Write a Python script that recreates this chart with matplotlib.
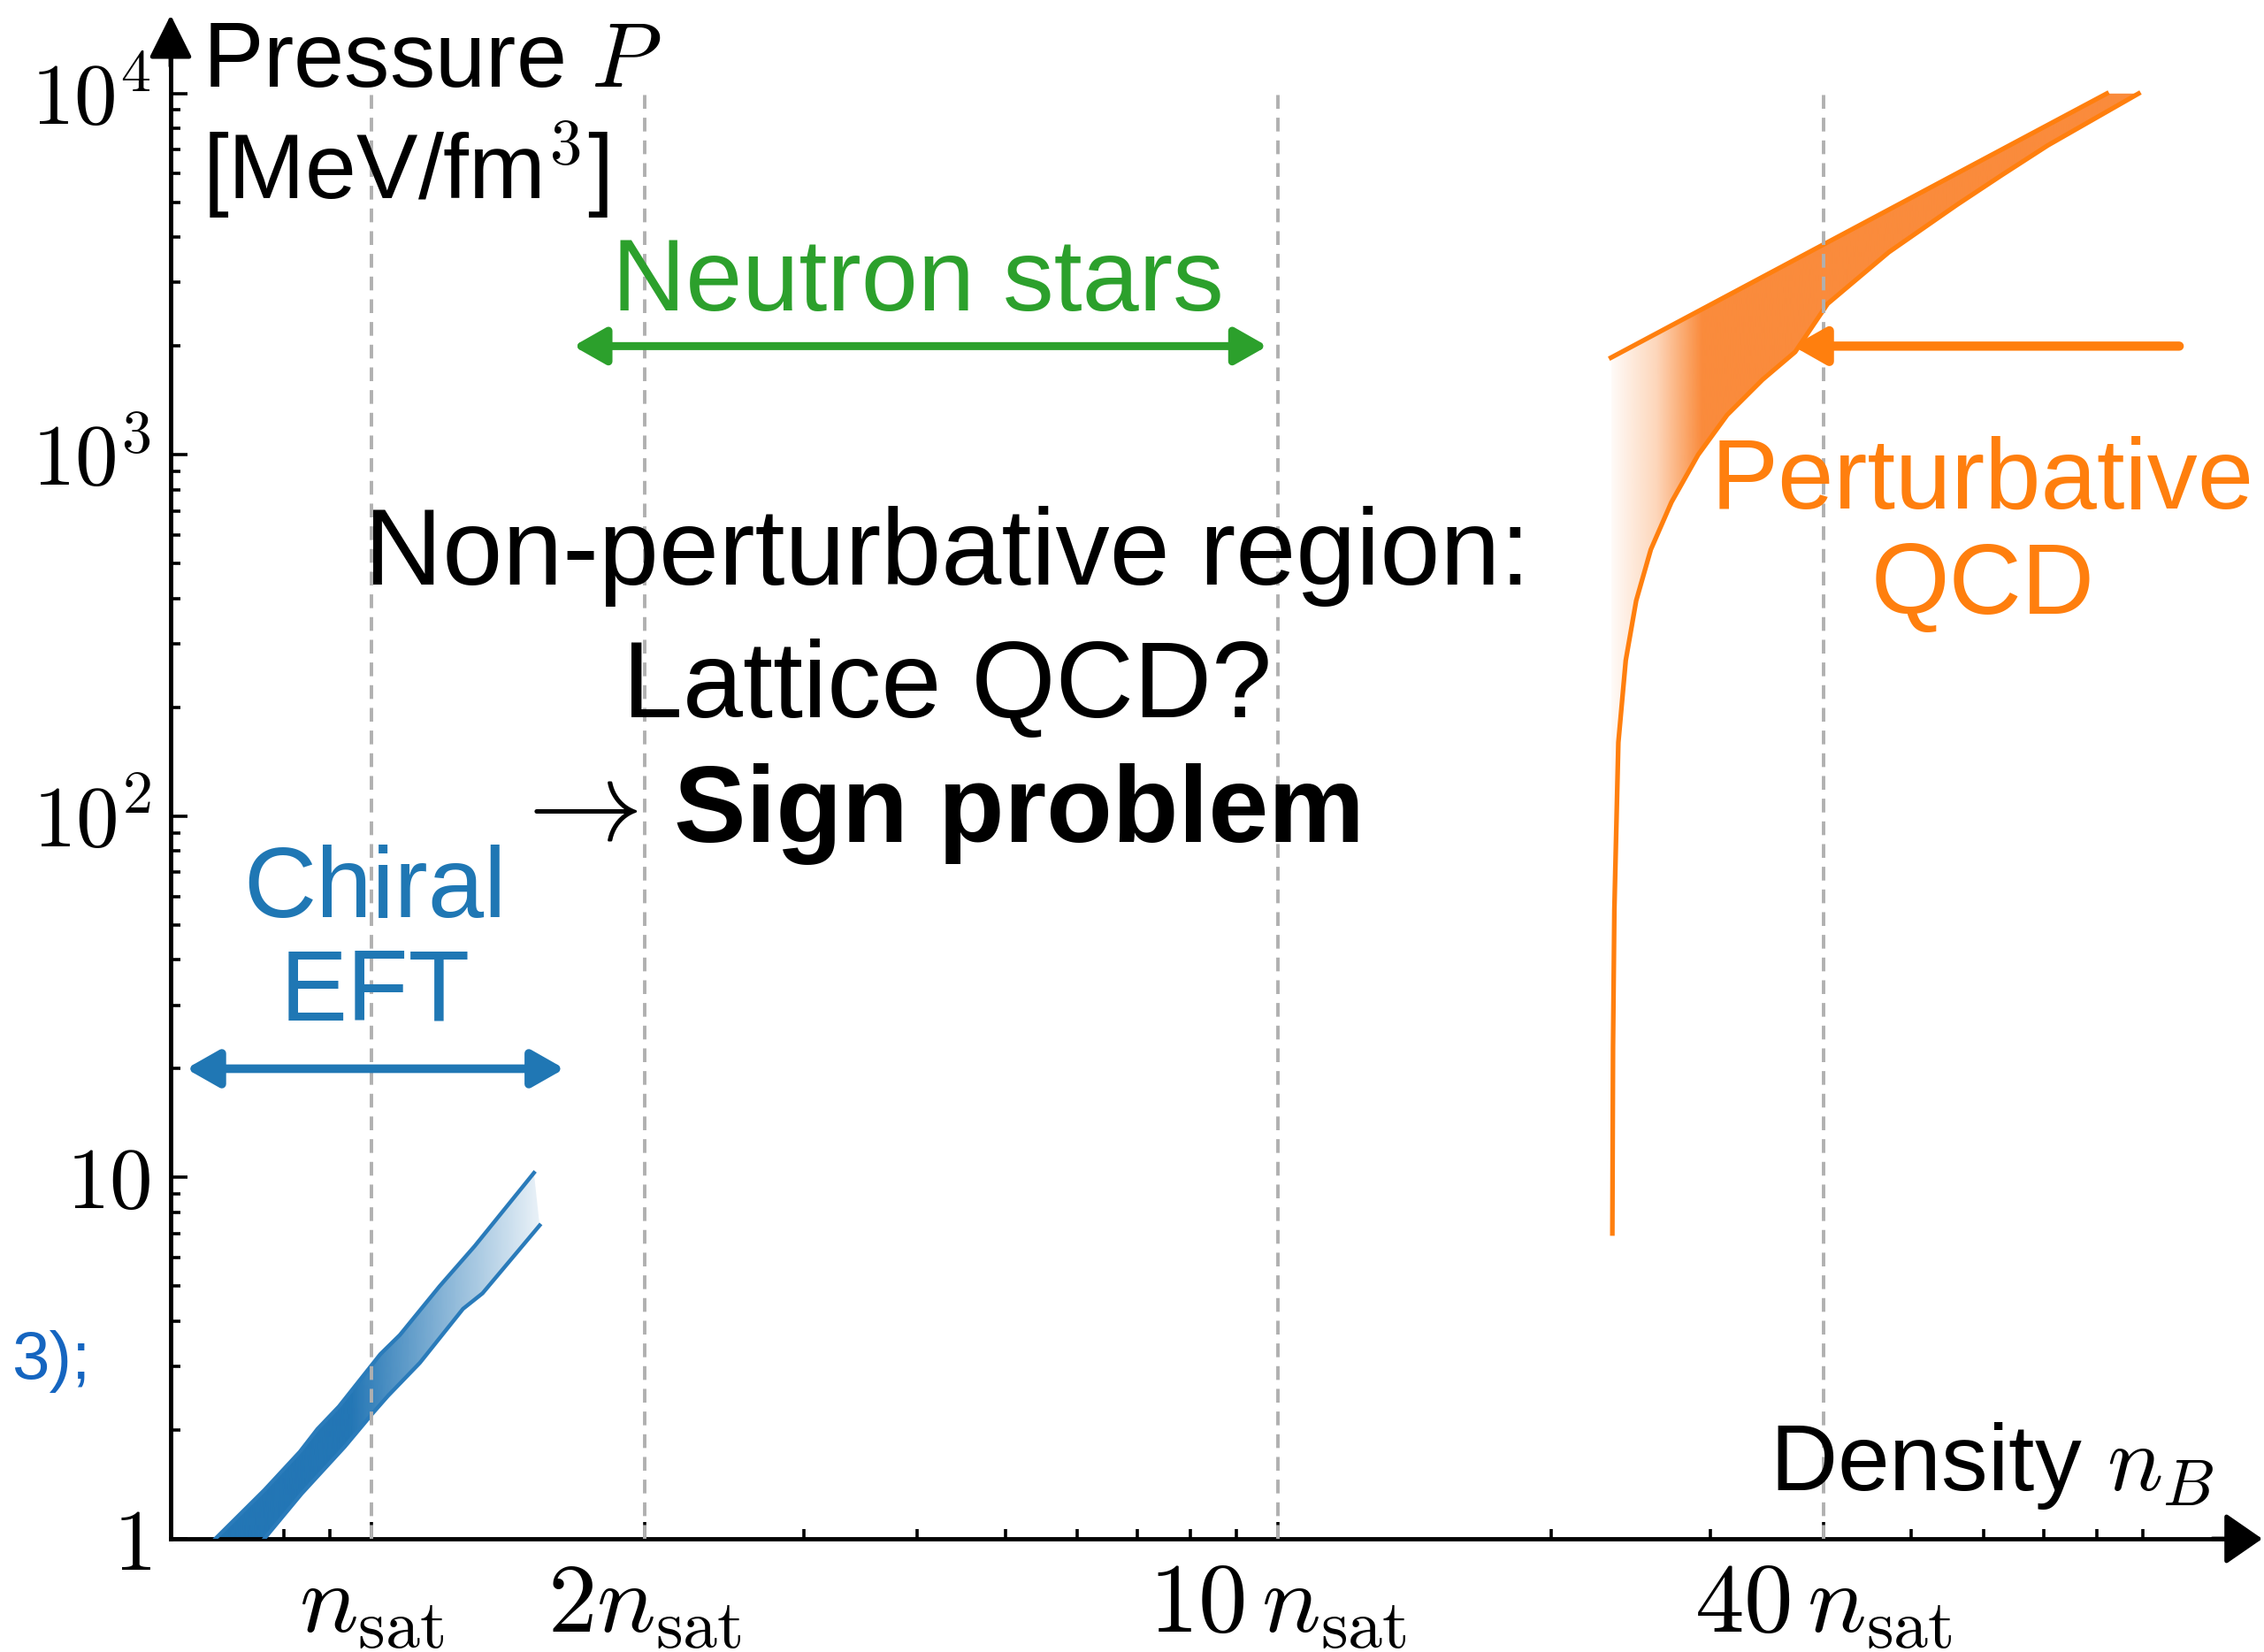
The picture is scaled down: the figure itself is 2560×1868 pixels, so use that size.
import numpy as np
import matplotlib.pyplot as plt
from matplotlib.patches import Polygon
from matplotlib.colors import to_rgb
from matplotlib.ticker import FixedLocator, NullFormatter

plt.rcParams['mathtext.fontset'] = 'cm'
plt.rcParams['font.family'] = ['Liberation Sans', 'DejaVu Sans']

# chiral EFT band: density in n_sat, pressure in MeV/fm^3
eft_up_n = [0.672, 0.761, 0.833, 0.871, 0.920, 1.022, 1.074, 1.188, 1.299, 1.510]
eft_up_p = [1.0, 1.363, 1.741, 2.012, 2.324, 3.243, 3.665, 5.0, 6.46, 10.3]
eft_lo_n = [0.761, 0.837, 0.934, 1.002, 1.042, 1.130, 1.261, 1.325, 1.532]
eft_lo_p = [1.0, 1.334, 1.800, 2.223, 2.486, 3.069, 4.33, 4.78, 7.37]

# perturbative QCD band
pqcd_up_n = [23.3, 82.1]
pqcd_up_p = [1858, 10000]
pqcd_lo_n = [23.38, 23.42, 23.50, 23.74, 24.19, 24.84, 25.78, 27.17, 29.07,
             31.3, 34.25, 37.2, 40.4, 47.2, 56.1, 62.9, 70.7, 89.0]
pqcd_lo_p = [7, 23, 55, 160, 270, 395, 547, 740, 1000,
             1290, 1616, 1927, 2620, 3640, 4920, 5950, 7190, 10000]

# reference densities
ref_n = [1, 2, 10, 40]
ref_labels = [r'$n_{\rm sat}$', r'$2n_{\rm sat}$', r'$10\,n_{\rm sat}$', r'$40\,n_{\rm sat}$']
x_minor = [0.7, 0.8, 0.9, 3, 4, 5, 6, 7, 8, 9, 20, 30, 50, 60, 70, 80, 90]
y_major = [1, 10, 100, 1000, 10000]
y_labels = [r'$1$', r'$10$', r'$10^2$', r'$10^3$', r'$10^4$']

# range arrows (n from, n to, P)
ns_arrow = [1.669, 9.73, 2000]
eft_arrow = [0.624, 1.632, 20]
pqcd_arrow = [98.7, 37.0, 2000]

W, H = 2560, 1868
XLIM = (0.6, 10**2.0537)
YLIM = (1, 10**4.117)

fig = plt.figure(figsize=(W / 100, H / 100), dpi=100)
ax = fig.add_axes([193 / W, 128 / H, 2332 / W, 1682 / H])
ax.set_xscale('log')
ax.set_yscale('log')
ax.set_xlim(XLIM)
ax.set_ylim(YLIM)
ax.set_autoscale_on(False)

blue = '#2376b5'
orange = '#ff7f0e'
green = '#2ca02c'


def band(n_up, p_up, n_lo, p_lo, color, grad_n, grad_a, z):
    verts = np.column_stack([list(n_up) + list(n_lo)[::-1], list(p_up) + list(p_lo)[::-1]])
    poly = Polygon(verts, closed=True, fc='none', ec='none')
    ax.add_patch(poly)
    lx0, lx1 = np.log10(XLIM[0]), np.log10(XLIM[1])
    xs = np.linspace(np.log10(verts[:, 0].min()), np.log10(verts[:, 0].max()), 800)
    rgba = np.zeros((1, len(xs), 4))
    rgba[..., :3] = to_rgb(color)
    rgba[0, :, 3] = np.interp(xs, np.log10(grad_n), grad_a)
    f0 = (xs[0] - lx0) / (lx1 - lx0)
    f1 = (xs[-1] - lx0) / (lx1 - lx0)
    im = ax.imshow(rgba, extent=[f0, f1, 0, 1], transform=ax.transAxes,
                   aspect='auto', interpolation='bilinear', zorder=z)
    im.set_clip_path(poly)


band(eft_up_n, eft_up_p, eft_lo_n, eft_lo_p, blue, [0.95, 1.2, 1.53], [1.0, 0.55, 0.1], 2)
ax.plot(eft_up_n, eft_up_p, color='#2a7bba', lw=3.2, zorder=3)
ax.plot(eft_lo_n, eft_lo_p, color='#2a7bba', lw=3.2, zorder=3)

band(pqcd_up_n, pqcd_up_p, pqcd_lo_n, pqcd_lo_p, '#fa8b3c', [23.3, 26.1, 29.3], [0.04, 0.35, 1.0], 2)
ax.plot(pqcd_up_n, pqcd_up_p, color=orange, lw=3.8, zorder=3)
ax.plot(pqcd_lo_n, pqcd_lo_p, color=orange, lw=3.8, zorder=3)

ax.vlines(ref_n, 1, 1e4, colors='#b0b0b0', linestyles=(0, (4, 2.6)), lw=2.8, zorder=4)

# range arrows
def range_arrow(a, color, style, lw, hl, hw):
    ax.annotate('', xy=(a[1], a[2]), xytext=(a[0], a[2]),
                arrowprops=dict(arrowstyle=f'{style},head_length={hl},head_width={hw}',
                                color=color, lw=lw, shrinkA=0, shrinkB=0,
                                mutation_scale=10, capstyle='round', joinstyle='round'),
                zorder=6)

range_arrow(ns_arrow, green, '<|-|>', 6.5, 2.2, 1.25)
range_arrow(eft_arrow, '#2077b4', '<|-|>', 7, 2.2, 1.25)
range_arrow(pqcd_arrow, orange, '-|>', 7.5, 2.2, 1.25)

# axes styling
for s in ['top', 'right']:
    ax.spines[s].set_visible(False)
for s in ['left', 'bottom']:
    ax.spines[s].set_linewidth(3.5)
ax.set_xticks(ref_n, labels=ref_labels, fontsize=80)
ax.xaxis.set_minor_locator(FixedLocator(x_minor))
ax.xaxis.set_minor_formatter(NullFormatter())
ax.set_yticks(y_major, labels=y_labels, fontsize=70)
ax.yaxis.set_minor_locator(FixedLocator([m * d for d in [1, 10, 100, 1000] for m in range(2, 10)]))
ax.yaxis.set_minor_formatter(NullFormatter())
ax.tick_params(which='both', direction='in', top=False, right=False, width=2.6)
ax.tick_params(which='major', length=14)
ax.tick_params(which='minor', length=8)
ax.tick_params(axis='x', which='major', pad=18)
ax.tick_params(axis='y', which='major', pad=16)

# axis arrow heads
ax.annotate('', xy=(0, 1 + 41 / 1682), xytext=(0, 0.99), xycoords='axes fraction',
            arrowprops=dict(arrowstyle='-|>,head_length=3.0,head_width=1.5', color='k',
                            lw=3.5, shrinkA=0, shrinkB=0, mutation_scale=10))
ax.annotate('', xy=(1 + 33 / 2332, 0), xytext=(0.99, 0), xycoords='axes fraction',
            arrowprops=dict(arrowstyle='-|>,head_length=2.6,head_width=1.8', color='k',
                            lw=3.5, shrinkA=0, shrinkB=0, mutation_scale=10))


def label(x, y, s, **kw):
    fig.text(x / W, 1 - y / H, s, va='baseline', **kw)


label(229, 98, 'Pressure $P$', fontsize=74)
label(229, 225, '[MeV/fm$^3$]', fontsize=75)
label(2503, 1685, 'Density $n_B$', fontsize=76, ha='right')
label(1038, 351, 'Neutron stars', fontsize=83, color=green, ha='center')
label(1071, 661, 'Non-perturbative region:', fontsize=88, ha='center')
label(1071, 811, 'Lattice QCD?', fontsize=88, ha='center')
label(574, 950, r'$\rightarrow$', fontsize=94)
label(762, 952, 'Sign problem', fontsize=88, fontweight='bold')
label(424, 1037, 'Chiral', fontsize=82, color='#1f77b4', ha='center')
label(424, 1154, 'EFT', fontsize=82, color='#1f77b4', ha='center')
label(2242, 575, 'Perturbative', fontsize=82, color=orange, ha='center')
label(2242, 694, 'QCD', fontsize=82, color=orange, ha='center')
label(13, 1559, '3);', fontsize=55, color='#1565c0')

fig.savefig('out.png', dpi=100)
